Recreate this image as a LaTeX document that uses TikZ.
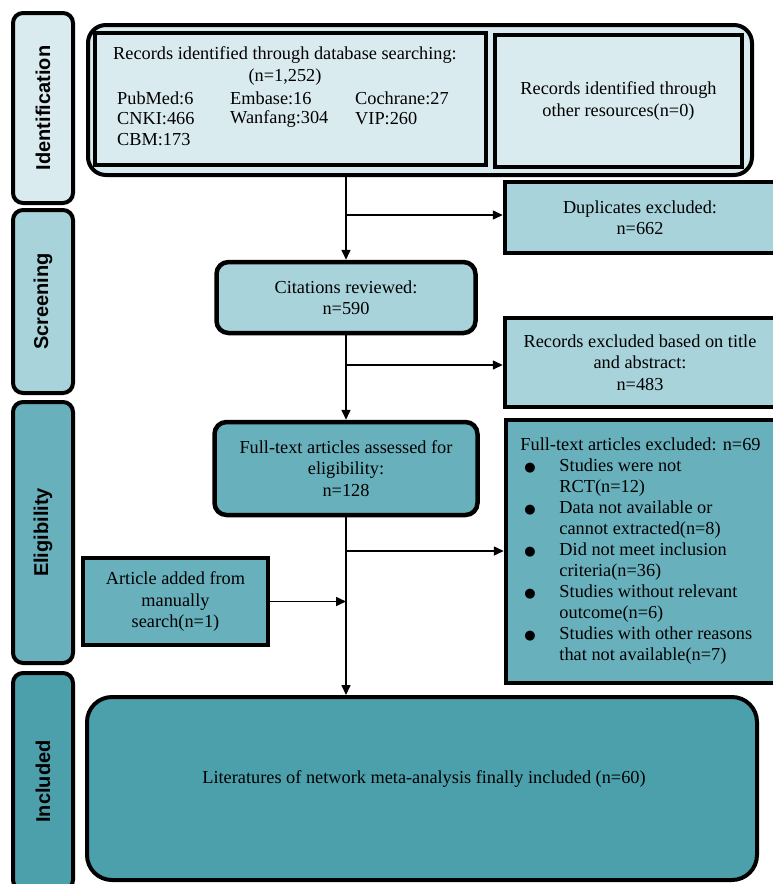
\documentclass[tikz,border=0pt]{standalone}
\usepackage{fontspec}
\setmainfont{Liberation Serif}
\newfontfamily\labfont{Liberation Sans}
\newfontfamily\bulfont{DejaVu Sans}
\usetikzlibrary{arrows.meta}
\definecolor{cid}{RGB}{218,235,240}
\definecolor{cscr}{RGB}{168,211,219}
\definecolor{celi}{RGB}{104,176,188}
\definecolor{cinc}{RGB}{76,160,172}
\newcommand{\bitem}{\makebox[39pt][l]{\hspace{4pt}{\bulfont\fontsize{13}{21}\selectfont ●}}}
\newcommand{\bcont}{\hspace*{39pt}}
\begin{document}
\begin{tikzpicture}[x=1pt,y=-1pt,
  side/.style={draw, line width=4pt, rounded corners=10pt, rotate=90, minimum height=60pt, inner sep=0pt, font=\labfont\bfseries\fontsize{20}{22}\selectfont},
  box/.style={draw, line width=4.5pt, align=center, inner sep=0pt, font=\fontsize{18.3}{21.5}\selectfont},
  rbox/.style={box, rounded corners=12pt},
  txt/.style={inner sep=0pt, font=\fontsize{18.3}{21.5}\selectfont},
  conn/.style={line width=1.6pt},
  arr/.style={conn, -{Triangle[length=10pt,width=9pt]}}]
\clip (0,0) rectangle (773,884);
\useasboundingbox (0,0) rectangle (773,884);

% side labels
\node[side, fill=cid, minimum width=190pt] (sid) at (43,108) {Identification};
\node[side, fill=cscr, minimum width=183pt] (sscr) at (43,301.5) {Screening};
\node[side, fill=celi, minimum width=261pt] (seli) at (43,532.5) {Eligibility};
\node[side, fill=cinc, minimum width=217pt] (sinc) at (43,781.5) {Included};

% identification
\node[draw, line width=4pt, rounded corners=18pt, fill=cid, minimum width=664pt, minimum height=150pt, inner sep=0pt] (idouter) at (420,100) {};
\node[box, line width=4pt, fill=cid, minimum width=391pt, minimum height=132pt] (db) at (290.5,99) {};
\node[box, line width=4pt, fill=cid, minimum width=247pt, minimum height=132pt] (other) at (618.5,101) {Records identified through\\ other resources(n=0)};
\node[txt, align=center] (dbtitle) at (285,66) {Records identified through database searching:\\(n=1,252)};
\node[txt, anchor=west] (pub) at (117,98) {PubMed:6};
\node[txt, anchor=west] (emb) at (230,98) {Embase:16};
\node[txt, anchor=west] (coch) at (355,98) {Cochrane:27};
\node[txt, anchor=west] (cnki) at (117,119) {CNKI:466};
\node[txt, anchor=west] (wan) at (230,119) {Wanfang:304};
\node[txt, anchor=west] (vip) at (355,119) {VIP:260};
\node[txt, anchor=west] (cbm) at (117,140) {CBM:173};

% screening
\node[box, fill=cscr, minimum width=270pt, minimum height=71pt] (dup) at (640,217.5) {Duplicates excluded:\\ n=662};
\node[rbox, fill=cscr, minimum width=259pt, minimum height=71pt] (cit) at (346,297.5) {Citations reviewed:\\ n=590};
\node[box, fill=cscr, minimum width=270pt, minimum height=89pt] (rex) at (640,362.5) {Records excluded based on title\\ and abstract:\\ n=483};

% eligibility
\node[rbox, fill=celi, minimum width=263pt, minimum height=93pt] (fta) at (346,468.5) {Full-text articles assessed for\\ eligibility:\\ n=128};
\node[box, fill=celi, minimum width=269pt, minimum height=263pt, align=left, font=\fontsize{18.3}{21}\selectfont] (fex) at (640.5,551.5) {Full-text articles excluded: n=69\\
\bitem Studies were not\\
\bcont RCT(n=12)\\
\bitem Data not available or\\
\bcont cannot extracted(n=8)\\
\bitem Did not meet inclusion\\
\bcont criteria(n=36)\\
\bitem Studies without relevant\\
\bcont outcome(n=6)\\
\bitem Studies with other reasons\\
\bcont that not available(n=7)};
\node[box, line width=4pt, fill=celi, minimum width=185pt, minimum height=87pt] (art) at (175.5,601.5) {Article added from\\ manually\\ search(n=1)};

% included
\node[draw, line width=4pt, rounded corners=25pt, fill=cinc, minimum width=670pt, minimum height=183pt, inner sep=0pt] (inc) at (422,788.5) {};
\node[txt] (inctext) at (424,779) {Literatures of network meta-analysis finally included (n=60)};

% connectors
\draw[arr] (idouter.south -| cit.north) -- (cit.north);
\coordinate (b1) at (346,215);
\draw[arr] (b1) -- (dup.west |- b1);
\draw[arr] (cit.south) -- (fta.north);
\coordinate (b2) at (346,365);
\draw[arr] (b2) -- (rex.west |- b2);
\draw[arr] (fta.south) -- (inc.north -| fta.south);
\coordinate (b3) at (346,551);
\draw[arr] (b3) -- (fex.west |- b3);
\draw[arr] (art.east) -- (art.east -| fta.south);
\end{tikzpicture}
\end{document}
